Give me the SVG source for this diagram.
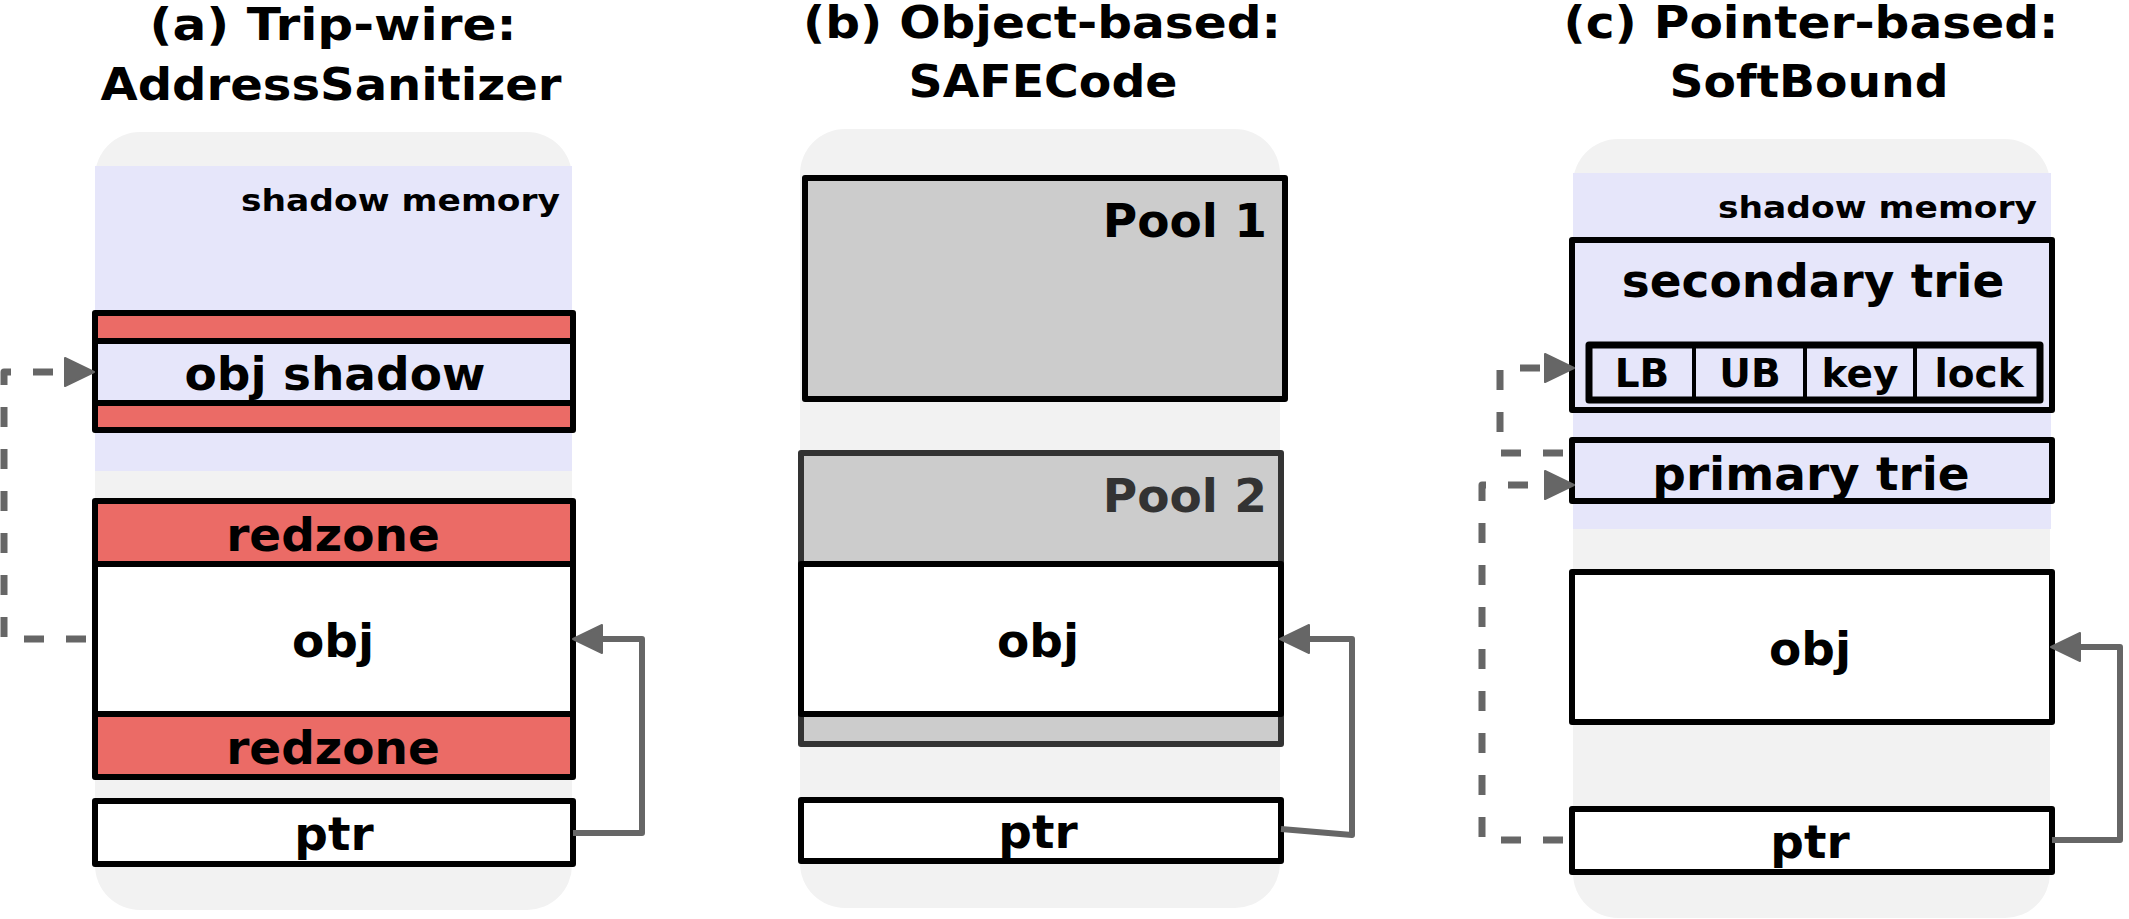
<svg xmlns="http://www.w3.org/2000/svg" width="2129" height="919" viewBox="0 0 2129 919">
<style>
text{font-family:"DejaVu Sans",Verdana,sans-serif;font-weight:bold;fill:#000}
.title{font-size:44px;text-anchor:middle}
.lbl{font-size:47px;text-anchor:middle}
.sm{font-size:30px;text-anchor:end}
.cell{font-size:39px;text-anchor:middle}
.bg{fill:#f2f2f2}
.shadow{fill:#e6e6fa}
.box{stroke:#000;stroke-width:6;stroke-linejoin:round}
.red{fill:#eb6b66}
.white{fill:#fff}
.lav{fill:#e6e6fa}
.pool{fill:#cccccc}
.conn{fill:none;stroke:#666;stroke-width:6;stroke-linejoin:round}
.dash{stroke-width:7;stroke-dasharray:20 22;stroke-dashoffset:36}
</style>
<defs>
<marker id="ah" viewBox="0 0 30 30" markerWidth="30" markerHeight="30" markerUnits="userSpaceOnUse" refX="1" refY="15" orient="auto" overflow="visible">
<path d="M0,1 L29,15 L0,29 z" fill="#666" stroke="#666" stroke-width="2" stroke-linejoin="round"/>
</marker>
</defs>

<g id="panel-a">
<text class="title" x="333" y="40" textLength="367" lengthAdjust="spacingAndGlyphs">(a) Trip-wire:</text>
<text class="title" x="331" y="100" textLength="461" lengthAdjust="spacingAndGlyphs">AddressSanitizer</text>
<rect class="bg" x="95" y="132" width="477" height="778" rx="45"/>
<rect class="shadow" x="95" y="166" width="477" height="305"/>
<text class="sm" x="560" y="211" textLength="319" lengthAdjust="spacingAndGlyphs">shadow memory</text>
</g>
<g id="a-obj-shadow">
<rect class="box red" x="95" y="313" width="478" height="28"/>
<rect class="box red" x="95" y="403" width="478" height="27"/>
<rect class="box lav" x="95" y="341" width="478" height="62"/>
<text class="lbl" x="335" y="390">obj shadow</text>
</g>
<g id="a-redzone-top">
<rect class="box red" x="95" y="501" width="478" height="63"/>
<text class="lbl" x="333" y="551">redzone</text>
</g>
<g id="a-obj">
<rect class="box white" x="95" y="564" width="478" height="150"/>
<text class="lbl" x="333" y="657">obj</text>
</g>
<g id="a-redzone-bottom">
<rect class="box red" x="95" y="714" width="478" height="63"/>
<text class="lbl" x="333" y="764">redzone</text>
</g>
<g id="a-ptr">
<rect class="box white" x="95" y="801" width="478" height="63"/>
<text class="lbl" x="334" y="850">ptr</text>
</g>

<g id="panel-b">
<text class="title" x="1042" y="38" textLength="478" lengthAdjust="spacingAndGlyphs">(b) Object-based:</text>
<text class="title" x="1043" y="97" textLength="269" lengthAdjust="spacingAndGlyphs">SAFECode</text>
<rect class="bg" x="800" y="129" width="480" height="779" rx="45"/>
</g>
<g id="b-pool1">
<rect class="box pool" x="805" y="178" width="480" height="221"/>
<text class="lbl" x="1267" y="237" style="text-anchor:end">Pool 1</text>
</g>
<g id="b-pool2">
<rect class="pool" x="801" y="453" width="480" height="291" stroke="#333" stroke-width="6" stroke-linejoin="round"/>
<text class="lbl" x="1267" y="512" style="text-anchor:end;fill:#333">Pool 2</text>
</g>
<g id="b-obj">
<rect class="box white" x="801" y="564" width="480" height="150"/>
<text class="lbl" x="1038" y="657">obj</text>
</g>
<g id="b-ptr">
<rect class="box white" x="801" y="800" width="480" height="61"/>
<text class="lbl" x="1038" y="848">ptr</text>
</g>

<g id="panel-c">
<text class="title" x="1811" y="38" textLength="495" lengthAdjust="spacingAndGlyphs">(c) Pointer-based:</text>
<text class="title" x="1809" y="97" textLength="279" lengthAdjust="spacingAndGlyphs">SoftBound</text>
<rect class="bg" x="1573" y="139" width="477" height="779" rx="45"/>
<rect class="shadow" x="1573" y="173" width="478" height="356"/>
<text class="sm" x="2037" y="218" textLength="319" lengthAdjust="spacingAndGlyphs">shadow memory</text>
</g>
<g id="c-secondary-trie">
<rect class="box lav" x="1572" y="240" width="480" height="170"/>
<text class="lbl" x="1813" y="297">secondary trie</text>
</g>
<g id="c-entry">
<rect class="lav" x="1589" y="345" width="451" height="55" stroke="#000" stroke-width="4"/>
<rect class="lav" x="1589" y="345" width="105" height="55" stroke="#000" stroke-width="4"/>
<rect class="lav" x="1694" y="345" width="111" height="55" stroke="#000" stroke-width="4"/>
<rect class="lav" x="1805" y="345" width="110" height="55" stroke="#000" stroke-width="4"/>
<rect class="lav" x="1915" y="345" width="125" height="55" stroke="#000" stroke-width="4"/>
<rect fill="none" x="1589" y="345" width="451" height="55" stroke="#000" stroke-width="7" stroke-linejoin="round"/>
<text class="cell" x="1642" y="387">LB</text>
<text class="cell" x="1750" y="387">UB</text>
<text class="cell" x="1860" y="387">key</text>
<text class="cell" x="1979" y="387">lock</text>
</g>
<g id="c-primary-trie">
<rect class="box lav" x="1572" y="440" width="480" height="61"/>
<text class="lbl" x="1811" y="490">primary trie</text>
</g>
<g id="c-obj">
<rect class="box white" x="1572" y="572" width="480" height="150"/>
<text class="lbl" x="1810" y="665">obj</text>
</g>
<g id="c-ptr">
<rect class="box white" x="1572" y="809" width="480" height="63"/>
<text class="lbl" x="1810" y="858">ptr</text>
</g>

<g id="connectors">
<path class="conn dash" d="M92,639 H4 V372 H66" marker-end="url(#ah)"/>
<path class="conn" d="M573,833 H642 V639 H601" marker-end="url(#ah)"/>
<path class="conn" d="M1281,829 L1352,835 V639 H1308" marker-end="url(#ah)"/>
<path class="conn dash" d="M1569,453 H1500 V368 H1546" marker-end="url(#ah)"/>
<path class="conn dash" d="M1569,840 H1482 V485 H1546" marker-end="url(#ah)"/>
<path class="conn" d="M2052,840 H2120 V647 H2079" marker-end="url(#ah)"/>
</g>
</svg>
